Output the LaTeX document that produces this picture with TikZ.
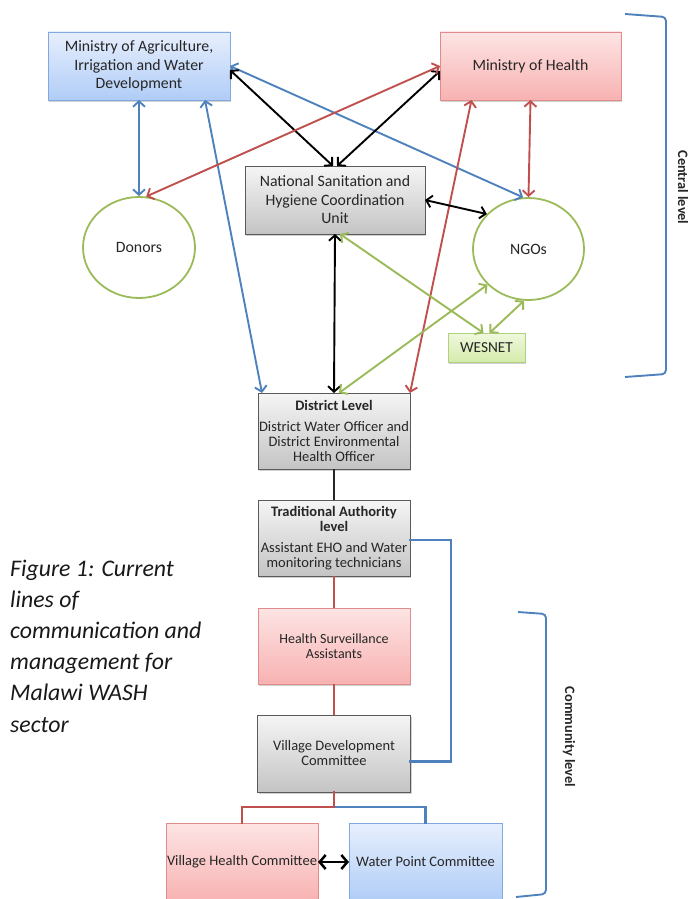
\documentclass[tikz,border=0pt]{standalone}
\usepackage{fontspec}
\setmainfont{Carlito}
\usetikzlibrary{arrows.meta,shapes.geometric,shadows,calc}
\definecolor{lblue}{RGB}{79,129,189}
\definecolor{lred}{RGB}{192,80,77}
\definecolor{lgreen}{RGB}{155,187,89}
\definecolor{btop}{RGB}{231,239,253}
\definecolor{bbot}{RGB}{176,205,247}
\definecolor{bline}{RGB}{130,168,224}
\definecolor{ptop}{RGB}{253,228,228}
\definecolor{pbot}{RGB}{248,178,178}
\definecolor{pline}{RGB}{224,140,140}
\definecolor{gtop}{RGB}{245,245,245}
\definecolor{gbot}{RGB}{196,196,196}
\definecolor{gline}{RGB}{90,90,90}
\definecolor{wtop}{RGB}{240,248,222}
\definecolor{wbot}{RGB}{212,235,170}
\definecolor{wline}{RGB}{176,210,128}
\definecolor{txt}{RGB}{38,38,38}
\begin{document}
\begin{tikzpicture}[x=1pt,y=-1pt,
  conn/.style={line width=1.9pt},
  seg/.style={line width=2.2pt, line cap=rect},
  dbl/.style={conn,{Straight Barb[length=5.5pt,width=12pt]}-{Straight Barb[length=5.5pt,width=12pt]}},
  dblbig/.style={line width=2.5pt,{Straight Barb[length=6pt,width=14pt]}-{Straight Barb[length=6pt,width=14pt]}},
  box/.style={rectangle, inner sep=0pt, outer sep=0pt, align=center, text=txt,
    font=\fontsize{15.8}{18.5}\selectfont, line width=0.9pt,
    drop shadow={shadow xshift=1.2pt, shadow yshift=-1.5pt, opacity=0.3, fill=black!60}},
  midtext/.style={font=\fontsize{14.5}{15}\selectfont},
  bluebox/.style={box, draw=bline, top color=btop, bottom color=bbot},
  pinkbox/.style={box, draw=pline, top color=ptop, bottom color=pbot},
  graybox/.style={box, draw=gline, top color=gtop, bottom color=gbot},
  greenbox/.style={box, draw=wline, top color=wtop, bottom color=wbot},
  circ/.style={ellipse, inner sep=0pt, draw=lgreen, line width=1.8pt, fill=white, text=txt,
    font=\fontsize{15.8}{18.5}\selectfont},
  capt/.style={anchor=base west, inner sep=0pt, text=black!90, font=\itshape\fontsize{23.8}{31}\selectfont},
  lvl/.style={rotate=-90, inner sep=0pt, text=txt, font=\bfseries\fontsize{14.3}{16}\selectfont},
  brack/.style={lblue, line width=1.9pt, rounded corners=4pt}
]
\useasboundingbox (0,0) rectangle (692,899);

% nodes
\node[bluebox, minimum width=182pt, minimum height=68pt] (ag) at (139,66) {Ministry of Agriculture,\\Irrigation and Water\\Development};
\node[pinkbox, minimum width=181pt, minimum height=68pt] (moh) at (530.5,66) {Ministry of Health};
\node[graybox, minimum width=180pt, minimum height=68pt] (nc) at (335,200) {National Sanitation and\\Hygiene Coordination\\Unit};
\node[circ, minimum width=112pt, minimum height=101pt] (don) at (139,247.5) {Donors};
\node[circ, minimum width=111pt, minimum height=102pt] (ngo) at (528.5,249) {NGOs};
\node[greenbox, font=\fontsize{15.3}{18}\selectfont, minimum width=77pt, minimum height=29pt] (wes) at (486.5,347.5) {WESNET};
\node[graybox, midtext, minimum width=152pt, minimum height=76pt] (dist) at (334,431) {\textbf{District Level}\\[6pt]District Water Officer and\\District Environmental\\Health Officer};
\node[graybox, midtext, minimum width=152pt, minimum height=76pt] (ta) at (334,538) {\textbf{Traditional Authority}\\\textbf{level}\\[6pt]Assistant EHO and Water\\monitoring technicians};
\node[pinkbox, font=\fontsize{14}{15}\selectfont, minimum width=152pt, minimum height=76pt] (hsa) at (334,646) {Health Surveillance\\Assistants};
\node[graybox, midtext, minimum width=153pt, minimum height=77pt] (vdc) at (334,753.5) {Village Development\\Committee};
\node[pinkbox, midtext, minimum width=152pt, minimum height=78pt] (vhc) at (242,862) {Village Health Committee};
\node[bluebox, midtext, minimum width=153pt, minimum height=78pt] (wpc) at (425.5,862) {Water Point Committee};

% caption
\foreach \t [count=\i] in {Figure 1: Current,lines of,communication and,management for,Malawi WASH,sector}
  \node[capt] (cap\i) at (10,{576+31.2*(\i-1)}) {\t};

% level brackets
\draw[brack] (625,14) -- (666,17) -- (666,374) -- (625,377);
\node[lvl] (central) at (683,187.5) {Central level};
\draw[brack] (518,612) -- (546,614) -- (546,894) -- (516,897);
\node[lvl] (community) at (569,737) {Community level};

% connectors
\draw[dbl, lblue] (ag.south) -- (don.north);
\draw[dbl, lblue] ([xshift=66pt]ag.south) -- ([xshift=4pt]dist.north west);
\draw[dbl, lblue] (ag.east) -- (ngo.96);
\draw[dbl, black] ([yshift=-4pt]ag.east) -- ([xshift=-2pt]nc.north);
\draw[dbl, black] ([yshift=-5pt]moh.west) -- ([xshift=2pt]nc.north);
\draw[dbl, lred] (moh.west) -- (don.82);
\draw[dbl, lred] ([xshift=-59pt]moh.south) -- (dist.north east);
\draw[dbl, lred] (moh.south) -- (ngo.north);
\draw[dbl, black] (nc.east) -- (ngo.140);
\draw[dbl, black] (nc.south) -- (dist.north);
\draw[dbl, lgreen] ([xshift=5pt]nc.south) -- ([xshift=-3pt]wes.north);
\draw[dbl, lgreen] ([xshift=5pt]dist.north) -- (ngo.221);
\draw[dbl, lgreen] ([xshift=3pt]wes.north) -- (ngo.265);

\draw[conn, black!85] (dist.south) -- (ta.north);
\draw[conn, lred] (ta.south) -- (hsa.north);
\draw[conn, lred] (hsa.south) -- (vdc.north);

\coordinate (taR) at ([yshift=-2pt]ta.east);
\coordinate (vdcR) at ([yshift=-8pt]vdc.east);
\coordinate (elbA) at ([xshift=41pt]taR);
\coordinate (elbB) at (elbA |- vdcR);
\draw[seg, draw=lblue] (taR) -- (elbA);
\draw[seg, draw=lblue] (elbA) -- (elbB);
\draw[seg, draw=lblue] (elbB) -- (vdcR);

\coordinate (split) at ([yshift=-15pt]vdc.south);
\coordinate (redL) at (split -| vhc.north);
\coordinate (bluR) at (split -| wpc.north);
\draw[seg, draw=lblue] (split) -- (bluR);
\draw[seg, draw=lblue] (bluR) -- (wpc.north);
\draw[seg, draw=lred] (vdc.south) -- (split);
\draw[seg, draw=lred] (split) -- (redL);
\draw[seg, draw=lred] (redL) -- (vhc.north);
\draw[dblbig, black] (vhc.east) -- (wpc.west);
\end{tikzpicture}
\end{document}
